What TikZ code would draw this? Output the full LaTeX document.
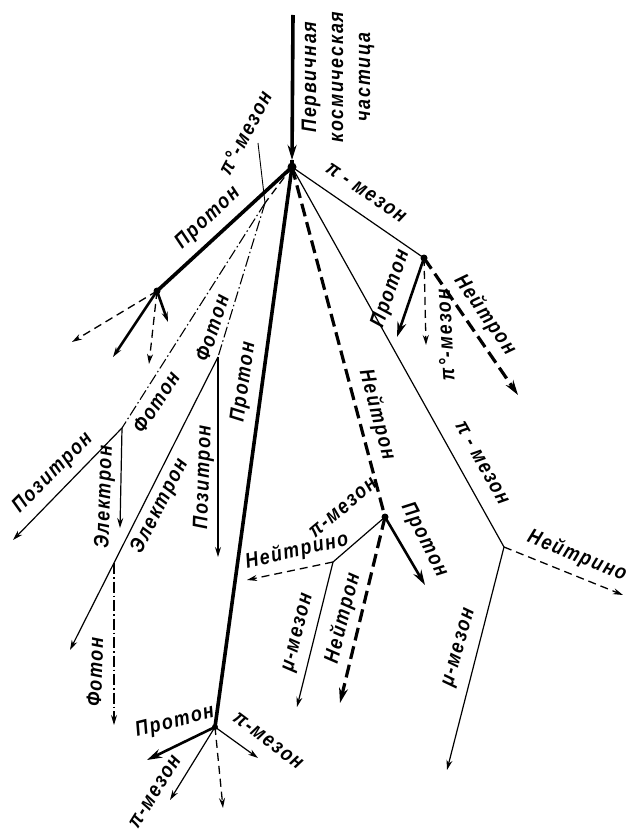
\documentclass[tikz,border=0pt]{standalone}
\usepackage{fontspec}
\setmainfont{Liberation Sans}
\newfontfamily\gostfont{Liberation Sans}[FakeStretch=0.85,LetterSpace=8]
\usetikzlibrary{arrows.meta}
\begin{document}
\begin{tikzpicture}[x=1pt,y=-1pt,
  thin/.style={line width=1.2pt},
  heavy/.style={line width=3.6pt},
  mid/.style={line width=2.6pt},
  dsh/.style={line width=1.3pt,dash pattern=on 8pt off 5pt},
  hdsh/.style={line width=3.2pt,dash pattern=on 13pt off 6pt},
  phot/.style={line width=1.1pt,dash pattern=on 11pt off 3pt on 1.5pt off 3pt},
  tipS/.style={-{Stealth[length=10pt,width=6pt]}},
  tipL/.style={-{Stealth[length=15pt,width=9pt]}},
  dot/.style={circle,fill,inner sep=0pt,minimum size=#1},
  dot/.default=6pt,
  lab/.style={font=\gostfont\fontsize{21}{27}\selectfont\bfseries\itshape,inner sep=0pt}]
\useasboundingbox (0,0) rectangle (639,837);
% vertices
\coordinate (T) at (293,15);
\coordinate (Tv) at (292,160);
\node[dot=9pt] (V) at (292,167) {};
\coordinate (P0) at (265,203);
\coordinate (L) at (258,143);
\coordinate (F1) at (122,428);
\coordinate (F2) at (218,357);
\node[dot=7pt] (A) at (157,291) {};
\coordinate (A1) at (72,342);
\coordinate (A2) at (113,357);
\coordinate (A3) at (149,364);
\coordinate (A4) at (168,322);
\node[dot=6pt] (B) at (215,727) {};
\coordinate (B1) at (147,760);
\coordinate (B2) at (170,800);
\coordinate (B3) at (223,808);
\coordinate (B4) at (258,758);
\node[dot=7pt] (C) at (385,517) {};
\coordinate (C1) at (425,585);
\coordinate (C2) at (340,703);
\coordinate (N1) at (333,562);
\coordinate (N2) at (247,580);
\coordinate (N3) at (297,707);
\node[dot=7pt] (D) at (424,258) {};
\coordinate (D1) at (397,337);
\coordinate (D2) at (426,345);
\coordinate (D3) at (518,395);
\coordinate (E) at (504,547);
\coordinate (E1) at (623,595);
\coordinate (E2) at (447,770);
\coordinate (Pz1) at (13,540);
\coordinate (El1) at (120,528);
\coordinate (El2) at (70,650);
\coordinate (G) at (114,563);
\coordinate (G2) at (114,725);
\coordinate (Pz2) at (218,557);
% primary
\draw[heavy,tipL] (T) -- (Tv);
\draw[heavy] (Tv) -- (V.center);
% from V
\draw[heavy] (V.center) -- (A.center);
\draw[heavy] (V.center) -- (B.center);
\draw[hdsh] (V.center) -- (C.center);
\draw[thin] (V.center) -- (D.center);
\draw[thin] (V.center) -- (E);
\draw[dsh] (V.center) -- (P0);
\draw[line width=0.9pt] (L) -- (P0);
% photons from pi0
\draw[phot] (P0) -- (F1);
\draw[phot] (P0) -- (F2);
\draw[thin,tipS] (F1) -- (Pz1);
\draw[thin,tipS] (F1) -- (El1);
\draw[thin,tipS] (F2) -- (El2);
\draw[thin,tipS] (F2) -- (Pz2);
\draw[phot,tipS] (G) -- (G2);
% A
\draw[dsh,tipS] (A.center) -- (A1);
\draw[mid,tipS] (A.center) -- (A2);
\draw[dsh,tipS] (A.center) -- (A3);
\draw[mid,tipS] (A.center) -- (A4);
% D
\draw[mid,tipL] (D.center) -- (D1);
\draw[dsh,tipS] (D.center) -- (D2);
\draw[hdsh,tipL] (D.center) -- (D3);
% C
\draw[mid,tipL] (C.center) -- (C1);
\draw[hdsh,tipL] (C.center) -- (C2);
\draw[thin] (C.center) -- (N1);
\draw[dsh,tipS] (N1) -- (N2);
\draw[thin,tipS] (N1) -- (N3);
% E
\draw[dsh,tipS] (E) -- (E1);
\draw[thin,tipS] (E) -- (E2);
% B
\draw[mid,tipL] (B.center) -- (B1);
\draw[thin,tipS] (B.center) -- (B2);
\draw[dsh,tipS] (B.center) -- (B3);
\draw[thin,tipS] (B.center) -- (B4);
% labels
\node[lab,rotate=90,align=center] (lPrim) at (338,77) {Первичная\\космическая\\частица};
\node[lab,rotate=43] (lPrA) at (208,218) {Протон};
\node[lab,rotate=62] (lPi0) at (245,133) {π°-мезон};
\node[lab,rotate=82] (lPrB) at (244,382) {Протон};
\node[lab,rotate=-75] (lNC) at (377,415) {Нейтрон};
\node[lab,rotate=-34] (lPiD) at (366,193) {π - мезон};
\node[lab,rotate=-61] (lPiE) at (482,463) {π - мезон};
\node[lab,rotate=71] (lPrD) at (391,289) {Протон};
\node[lab,rotate=93] (lPi0D) at (445,335) {π°-мезон};
\node[lab,rotate=-55] (lND) at (485,315) {Нейтрон};
\node[lab,rotate=-63] (lPrC) at (424,540) {Протон};
\node[lab,rotate=76] (lNC2) at (343,618) {Нейтрон};
\node[lab,rotate=40] (lPiC) at (343,508) {π-мезон};
\node[lab,rotate=13] (lNuN) at (297,551) {Нейтрино};
\node[lab,rotate=76] (lMuN) at (299,633) {μ-мезон};
\node[lab,rotate=-22] (lNuE) at (577,556) {Нейтрино};
\node[lab,rotate=74] (lMuE) at (460,648) {μ-мезон};
\node[lab,rotate=14] (lPrB2) at (175,722) {Протон};
\node[lab,rotate=58] (lPiB1) at (155,792) {π-мезон};
\node[lab,rotate=-37] (lPiB2) at (268,741) {π-мезон};
\node[lab,rotate=57] (lF1) at (156,402) {Фотон};
\node[lab,rotate=72] (lF2) at (212,328) {Фотон};
\node[lab,rotate=88] (lF3) at (95,672) {Фотон};
\node[lab,rotate=45] (lPz1) at (53,473) {Позитрон};
\node[lab,rotate=88] (lEl1) at (105,497) {Электрон};
\node[lab,rotate=63] (lEl2) at (160,506) {Электрон};
\node[lab,rotate=88] (lPz2) at (204,477) {Позитрон};
\end{tikzpicture}
\end{document}
